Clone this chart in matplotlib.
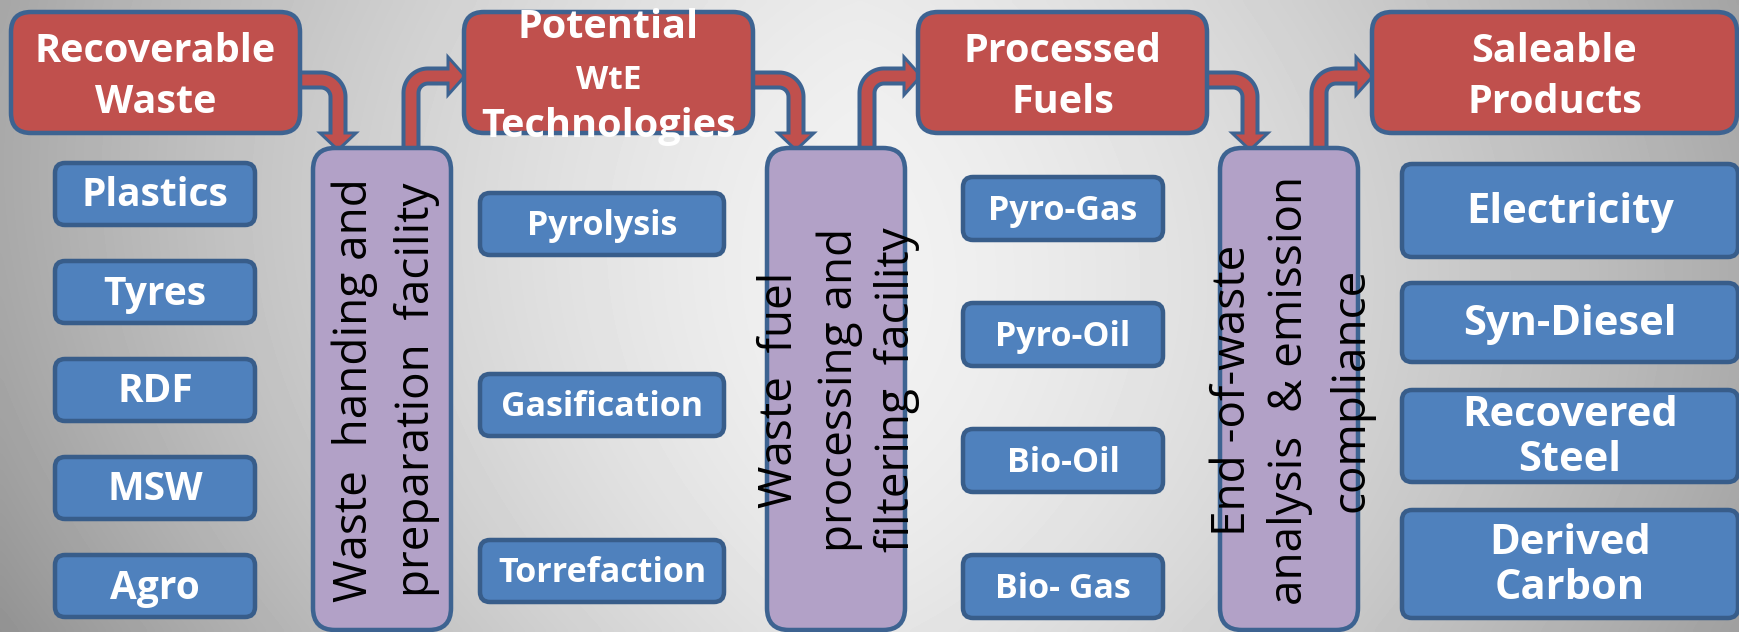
import matplotlib
matplotlib.use('Agg')
import matplotlib.pyplot as plt
from matplotlib.patches import FancyBboxPatch, Polygon
import numpy as np

# ---- content ----
headers = [['Recoverable', 'Waste'], ['Potential', 'WtE', 'Technologies'],
           ['Processed', 'Fuels'], ['Saleable', 'Products']]
col_items = [
    ['Plastics', 'Tyres', 'RDF', 'MSW', 'Agro'],
    ['Pyrolysis', 'Gasification', 'Torrefaction'],
    ['Pyro-Gas', 'Pyro-Oil', 'Bio-Oil', 'Bio- Gas'],
    ['Electricity', 'Syn-Diesel', 'Recovered\nSteel', 'Derived\nCarbon'],
]
stages = [['Waste  handing and', 'preparation  facility'],
          ['Waste  fuel', 'processing and', 'filtering  facility'],
          ['End -of-waste', 'analysis  & emission', 'compliance']]

# ---- layout (pixels, y downwards) ----
W, H = 1740, 632
hdr_x = [11, 464, 918, 1372]
hdr_w = [289, 289, 289, 365]
hdr_y, hdr_h = 12, 121
hdr_base = [[62, 113], [38, 89, 137], [62, 113], [62, 113]]
hdr_fs = [[28.5, 28.5], [28.5, 24, 28.5], [28.5, 28.5], [28.5, 28.5]]

col_x = [55, 480, 963, 1402]
col_w = [200, 244, 200, 336]
col_top = [[163, 261, 359, 457, 555], [193, 374, 540], [177, 303, 429, 555],
           [164, 283, 390, 510]]
col_h = [[62] * 5, [62] * 3, [63] * 4, [93, 79, 92, 108]]
col_fs = [28, 24.5, 24.5, 30]

stg_x = [313, 767, 1220]
stg_w = 138
stg_y, stg_bot = 148, 630
stg_lines_x = [[355, 417], [780, 840, 897], [1233, 1290, 1352]]
stg_lines_y = [390, 390, 390]

down_x = [338, 796, 1250]
up_x = [411, 867, 1319]

RED, BLUE, PURPLE = '#C0504D', '#4F81BD', '#B2A1C7'
EDGE = '#3D6391'
BEDGE = '#385D8A'

fig = plt.figure(figsize=(W / 100, H / 100), dpi=100)
ax = fig.add_axes([0, 0, 1, 1])
ax.set_xlim(0, W)
ax.set_ylim(H, 0)
ax.axis('off')

# background gradient
xx, yy = np.meshgrid(np.linspace(0, W, 350), np.linspace(0, H, 130))
dx = np.abs(xx - 860) / 870
dy = (yy - 280) / 350
v = 0.95 - 0.27 * dx ** 1.4 - 0.05 * dy ** 2 - 0.06 * np.clip(yy / H, 0, 1) * np.clip(1 - xx / 860, 0, 1)
ax.imshow(np.clip(v, 0, 1), cmap='gray', vmin=0, vmax=1, extent=[0, W, H, 0],
          aspect='auto', interpolation='bicubic', zorder=0)

px = 0.72  # points per pixel
shaft_out, shaft_in = 19, 11
r = 17


def arc(cx, cy, rad, a0, a1):
    t = np.linspace(np.radians(a0), np.radians(a1), 20)
    return np.c_[cx + rad * np.cos(t), cy + rad * np.sin(t)]


def bent_arrow(path, head):
    ax.plot(path[:, 0], path[:, 1], color=EDGE, lw=shaft_out * px,
            solid_capstyle='butt', solid_joinstyle='round', zorder=2)
    ax.add_patch(Polygon(head, closed=True, fc=RED, ec=EDGE, lw=3 * px, zorder=3))
    ax.plot(path[:, 0], path[:, 1], color=RED, lw=shaft_in * px,
            solid_capstyle='butt', solid_joinstyle='round', zorder=4)


yc = 80
for x in down_x:
    p = np.vstack([[x - 50, yc], arc(x - r, yc + r, r, -90, 0), [x, 136]])
    head = [[x - 18, 133], [x + 18, 133], [x, 150]]
    bent_arrow(p, head)

ys = 76
for x in up_x:
    tip = x + 54
    p = np.vstack([[x, 160], arc(x + r, ys + r, r, 180, 270), [tip - 14, ys]])
    head = [[tip - 17, ys - 19], [tip - 17, ys + 19], [tip, ys]]
    bent_arrow(p, head)


def box(x, y, w, h, fc, ec, rs, z=5):
    ax.add_patch(FancyBboxPatch((x, y), w, h, boxstyle=f'round,pad=0,rounding_size={rs}',
                                fc=fc, ec=ec, lw=4.5 * px, zorder=z))


# header boxes
for i, lines in enumerate(headers):
    box(hdr_x[i], hdr_y, hdr_w[i], hdr_h, RED, EDGE, 20)
    cx = hdr_x[i] + hdr_w[i] / 2
    for t, b, fs in zip(lines, hdr_base[i], hdr_fs[i]):
        ax.text(cx, b, t, ha='center', va='baseline', color='white', fontsize=fs,
                family='Open Sans', fontweight='bold', zorder=8)

# item boxes
for i, items in enumerate(col_items):
    for j, t in enumerate(items):
        top, h = col_top[i][j], col_h[i][j]
        box(col_x[i], top, col_w[i], h, BLUE, BEDGE, 10)
        ax.text(col_x[i] + col_w[i] / 2, top + h / 2 + 2, t, ha='center', va='center',
                color='white', fontsize=col_fs[i], family='Open Sans', fontweight='bold',
                linespacing=1.15, zorder=8)

# stage boxes
for i, lines in enumerate(stages):
    box(stg_x[i], stg_y, stg_w, stg_bot - stg_y, PURPLE, EDGE, 22)
    for t, lx in zip(lines, stg_lines_x[i]):
        ax.text(lx, stg_lines_y[i], t, rotation=90, ha='center', va='center',
                color='black', fontsize=33, family='Open Sans', zorder=8)

fig.savefig('out.png', dpi=100)
